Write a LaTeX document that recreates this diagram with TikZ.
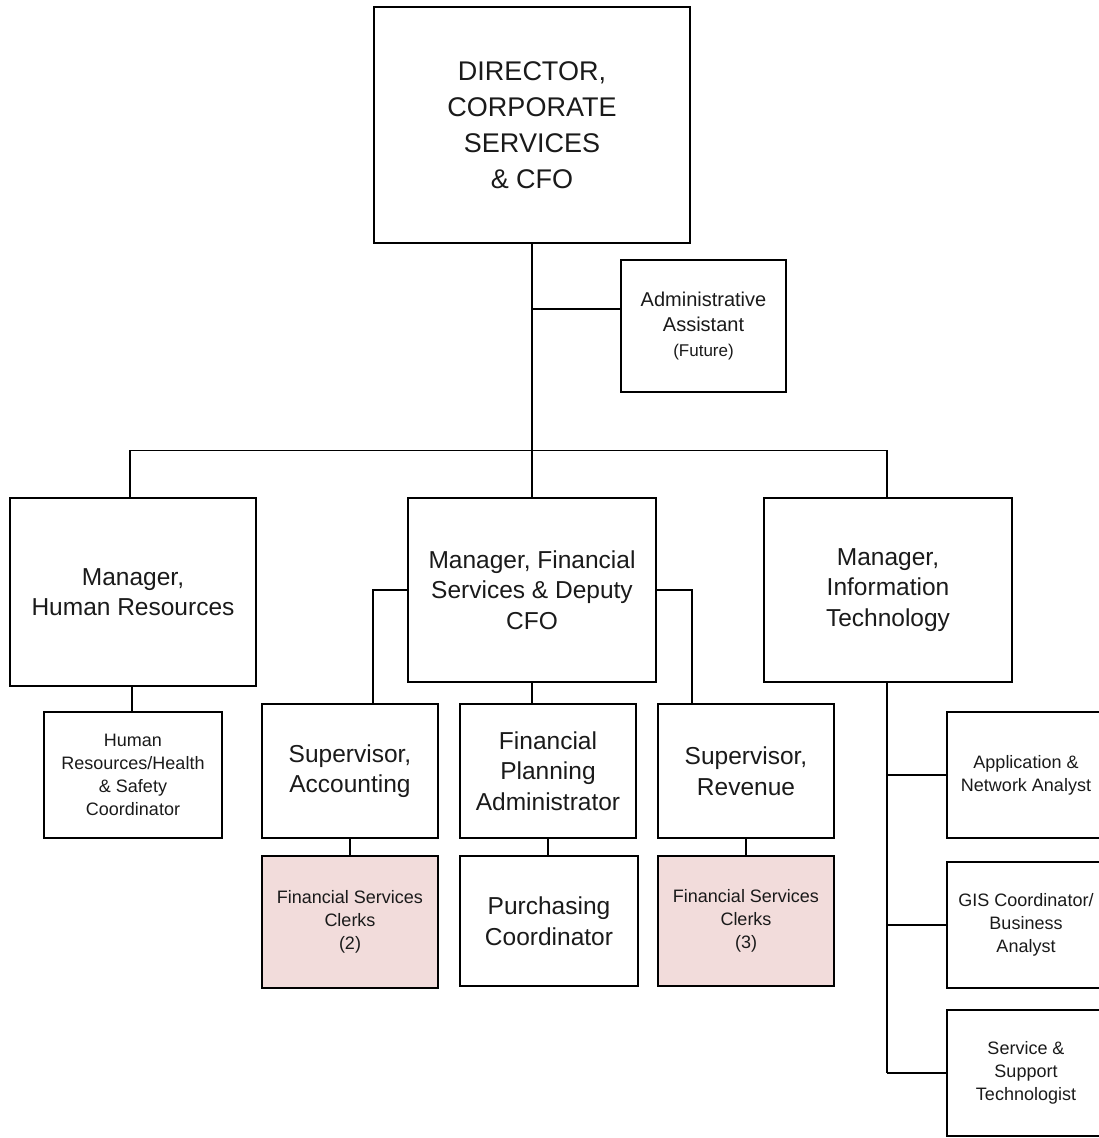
\documentclass[tikz,border=0pt]{standalone}
\usepackage{fontspec}
\setmainfont{Liberation Sans}
\definecolor{clerkpink}{HTML}{F2DCDB}
\definecolor{inkgray}{HTML}{1A1A1A}
\tikzset{
  box/.style={draw=black, line width=1.6pt, rectangle, inner sep=0pt,
    align=center, text=inkgray},
  pinkbox/.style={box, fill=clerkpink},
  link/.style={draw=black, line width=1.3pt},
  fbig/.style={font=\fontsize{27}{36}\selectfont},
  fmid/.style={font=\fontsize{24.5}{30.5}\selectfont},
  fadm/.style={font=\fontsize{20}{25}\selectfont},
  fsmall/.style={font=\fontsize{18}{23}\selectfont},
}
\begin{document}
\begin{tikzpicture}[x=1pt, y=-1pt]
\path[use as bounding box] (0,0) rectangle (1099,1138);
\clip (0,0) rectangle (1099,1138);

% top level
\node[box, fbig, minimum width=316, minimum height=236] (dir) at (532,125)
  {DIRECTOR,\\CORPORATE\\SERVICES\\\& CFO};
\node[box, fadm, minimum width=165, minimum height=132] (adm) at (703.5,326)
  {Administrative\\Assistant\\{\fontsize{17}{25}\selectfont (Future)}};

% managers
\node[box, fmid, minimum width=246, minimum height=188] (hrm) at (133,592)
  {Manager,\\Human Resources};
\node[box, fmid, minimum width=248, minimum height=184] (fsm) at (532,590)
  {Manager, Financial\\Services \& Deputy\\CFO};
\node[box, fmid, minimum width=248, minimum height=184] (itm) at (888,590)
  {Manager,\\Information\\Technology};

% human resources
\node[box, fsmall, minimum width=178, minimum height=126] (hrc) at (133,775)
  {Human\\Resources/Health\\\& Safety\\Coordinator};

% financial services
\node[box, fmid, minimum width=176, minimum height=134] (sacc) at (350,771)
  {Supervisor,\\Accounting};
\node[box, fmid, minimum width=176, minimum height=134] (fpa) at (548,771)
  {Financial\\Planning\\Administrator};
\node[box, fmid, minimum width=176, minimum height=134] (srev) at (746,771)
  {Supervisor,\\Revenue};
\node[pinkbox, fsmall, minimum width=176, minimum height=132] (clk2) at (350,922)
  {Financial Services\\Clerks\\(2)};
\node[box, fmid, minimum width=178, minimum height=130] (pur) at (549,921)
  {Purchasing\\Coordinator};
\node[pinkbox, fsmall, minimum width=176, minimum height=130] (clk3) at (746,921)
  {Financial Services\\Clerks\\(3)};

% information technology
\node[box, fsmall, minimum width=158, minimum height=126] (app) at (1026,775)
  {Application \&\\Network Analyst};
\node[box, fsmall, minimum width=158, minimum height=126] (gis) at (1026,925)
  {GIS Coordinator/\\Business\\Analyst};
\node[box, fsmall, minimum width=158, minimum height=126] (svc) at (1026,1073)
  {Service \&\\Support\\Technologist};

% connectors
\coordinate (admtap) at ([yshift=17pt]adm.west);
\draw[link] (dir.south) -- (fsm.north);
\draw[link] (dir.south |- admtap) -- (admtap);
\draw[link] ([xshift=-3pt]hrm.north) -- ++(0,-47) -| ([xshift=-1pt]itm.north);
\draw[link] ([xshift=-1pt]hrm.south) -- ([xshift=-1pt]hrc.north);

\draw[link] (fsm.west) -| ([xshift=23pt]sacc.north);
\draw[link] (fsm.east) -| ([xshift=-54pt]srev.north);
\draw[link] (fsm.south) -- (fsm.south |- fpa.north);
\draw[link] (sacc.south) -- (clk2.north);
\draw[link] (fpa.south) -- (fpa.south |- pur.north);
\draw[link] (srev.south) -- (clk3.north);

\draw[link] ([xshift=-1pt]itm.south) -- ([xshift=-1pt]itm.south |- svc.west);
\draw[link] ([xshift=-1pt]itm.south |- app.west) -- (app.west);
\draw[link] ([xshift=-1pt]itm.south |- gis.west) -- (gis.west);
\draw[link] ([xshift=-1pt]itm.south |- svc.west) -- (svc.west);
\end{tikzpicture}
\end{document}
